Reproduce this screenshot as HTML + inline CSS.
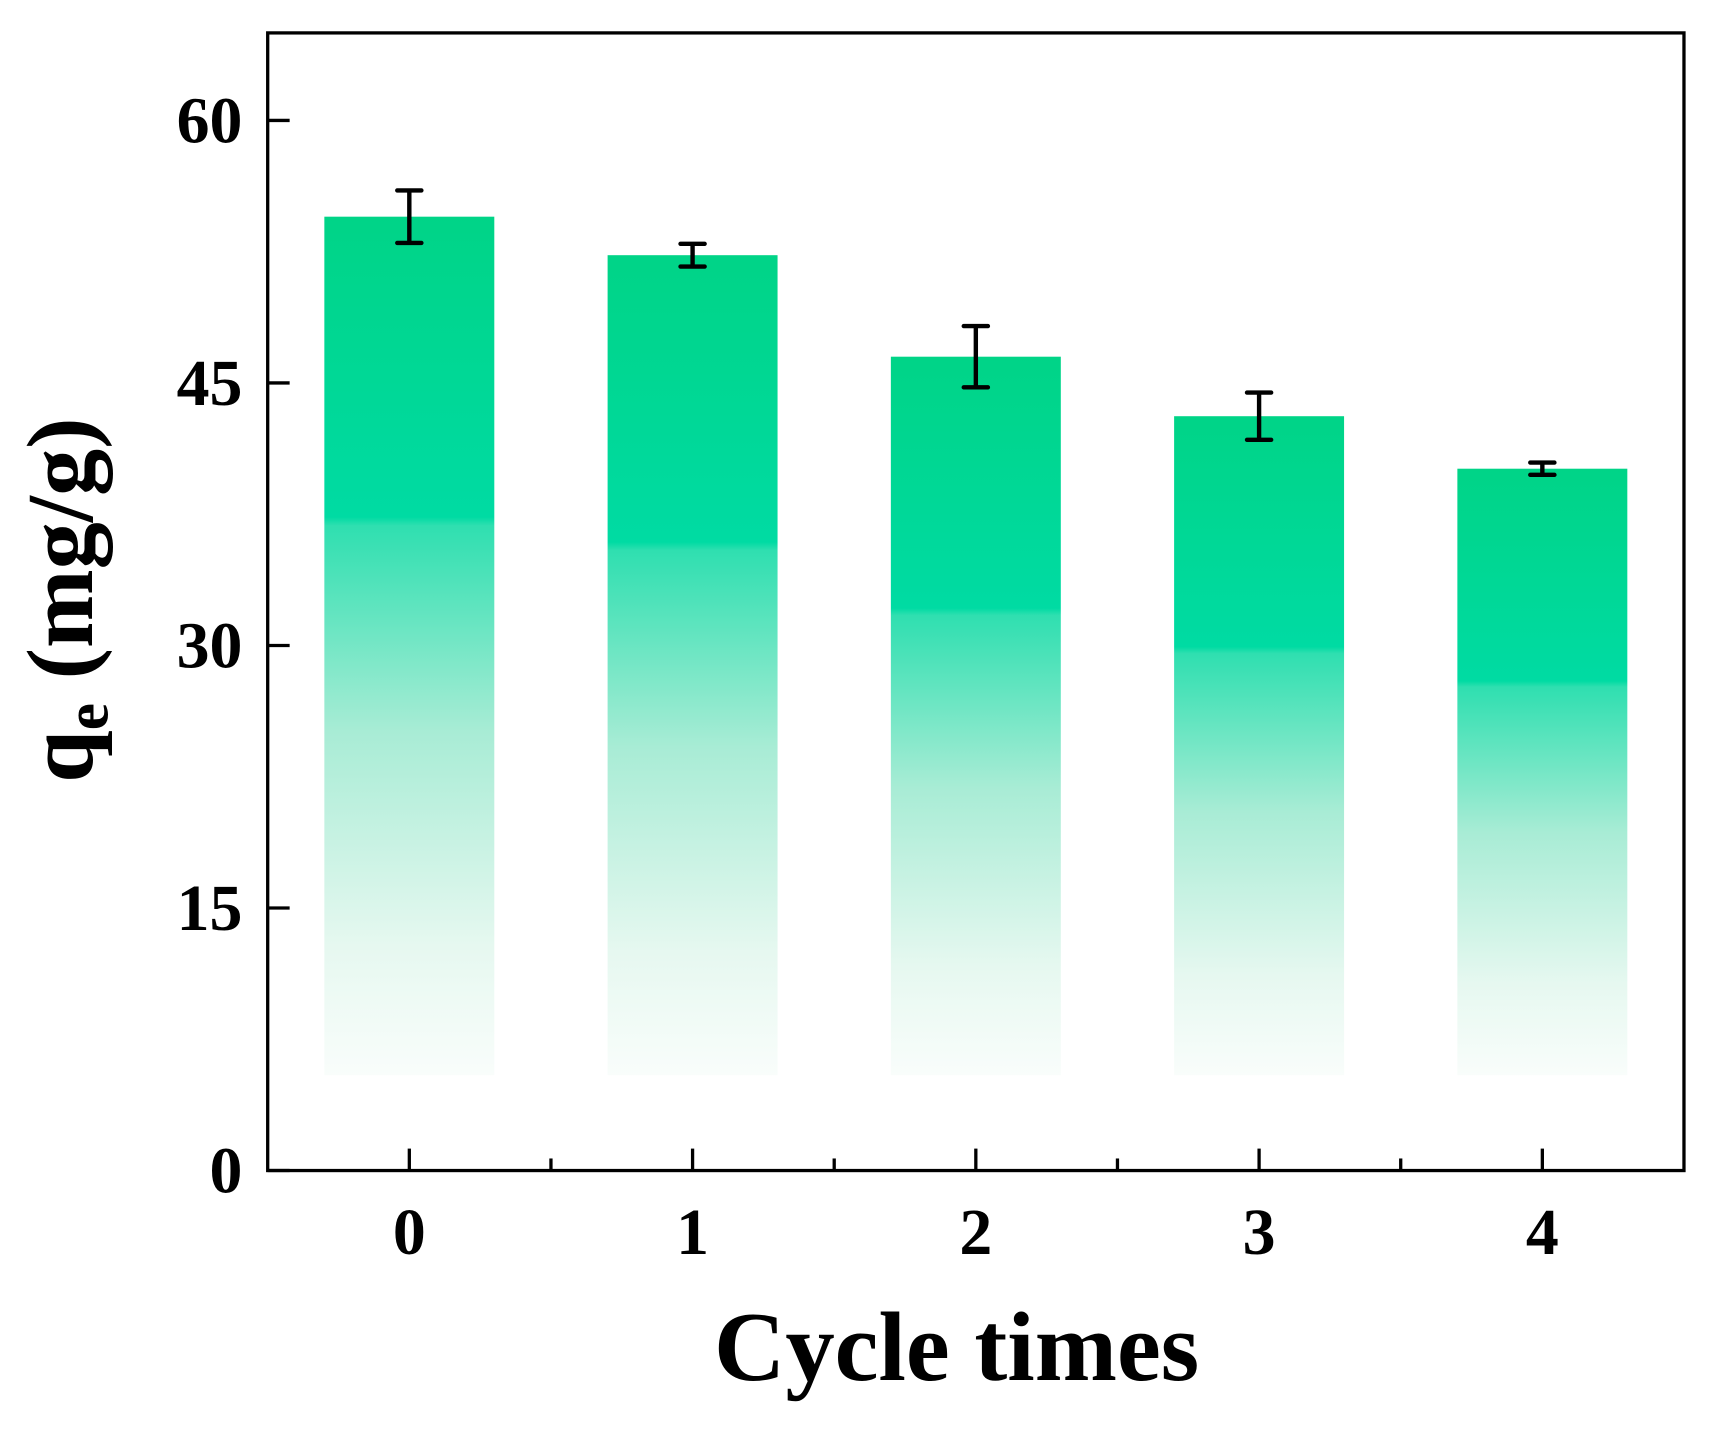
<!DOCTYPE html>
<html><head><meta charset="utf-8"><style>
html,body{margin:0;padding:0;background:#fff}
svg{display:block}
text{font-family:"Liberation Serif",serif;font-weight:bold;fill:#000}
</style></head><body>
<svg id="chart" width="1718" height="1429" viewBox="0 0 1566 1302.6" xmlns="http://www.w3.org/2000/svg">
<defs>
<linearGradient id="g" x1="0" y1="0" x2="0" y2="1">
<stop offset="0" stop-color="#00d487"/>
<stop offset="0.35" stop-color="#00dba3"/>
<stop offset="0.36" stop-color="#2fdfb0"/>
<stop offset="0.6" stop-color="#a8ecd5"/>
<stop offset="0.85" stop-color="#e6f8f0"/>
<stop offset="1" stop-color="#f9fdfb"/>
</linearGradient>
</defs>
<g id="bars"></g>
<g id="axes"></g>
<text x="872" y="1258" font-size="90" text-anchor="middle">Cycle times</text>
<text transform="translate(84,547) rotate(-90)" font-size="86" text-anchor="middle">q<tspan font-size="56" dy="14">e</tspan><tspan dy="-14"> (mg/g)</tspan></text>
</svg>
<script>
const categories = ["0","1","2","3","4"];
const values = [54.5, 52.3, 46.5, 43.1, 40.1];
const errors = [1.5, 0.65, 1.75, 1.35, 0.35];
const yTicks = [0, 15, 30, 45, 60];
const barBase = 5.45;

const L=244,R=1535,T=30,B=1067,yMax=65;
const NS="http://www.w3.org/2000/svg";
function sx(i){return L+(i+0.5)*(R-L)/categories.length;}
function sy(v){return B-(v/yMax)*(B-T);}
const bw=0.6*(R-L)/categories.length;
function mk(tag,attrs,parent){const e=document.createElementNS(NS,tag);for(const k in attrs)e.setAttribute(k,attrs[k]);parent.appendChild(e);return e;}
const bars=document.getElementById('bars'), axes=document.getElementById('axes');
values.forEach((v,i)=>{
  const r=mk('rect',{x:sx(i)-bw/2,y:sy(v),width:bw,height:sy(barBase)-sy(v),fill:'url(#g)'},bars);
  
  
  const e=mk('path',{d:`M${sx(i)-11},${sy(v+errors[i])}H${sx(i)+11}M${sx(i)},${sy(v+errors[i])}V${sy(v-errors[i])}M${sx(i)-11},${sy(v-errors[i])}H${sx(i)+11}`,stroke:'#000','stroke-width':4,'stroke-linecap':'round',fill:'none'},bars);
  
  
});
const frame=mk('rect',{x:L,y:T,width:R-L,height:B-T,fill:'none',stroke:'#000','stroke-width':3},axes);


yTicks.forEach(t=>{
  const y=sy(t);
  const tk=mk('line',{x1:L,x2:L+20,y1:y,y2:y,stroke:'#000','stroke-width':3},axes);
  
  
  const lb=mk('text',{x:221,y:y+20,'font-size':60,'text-anchor':'end'},axes);
  lb.textContent=t;
  
  
});
categories.forEach((c,i)=>{
  const x=sx(i);
  const tk=mk('line',{x1:x,x2:x,y1:B,y2:B-20,stroke:'#000','stroke-width':3},axes);
  
  
  if(i>0){
    const m=mk('line',{x1:x-(R-L)/10,x2:x-(R-L)/10,y1:B,y2:B-11,stroke:'#000','stroke-width':3},axes);
    
    
  }
  const lb=mk('text',{x:x,y:1143,'font-size':60,'text-anchor':'middle'},axes);
  lb.textContent=c;
  
  
});
</script>
</body></html>
